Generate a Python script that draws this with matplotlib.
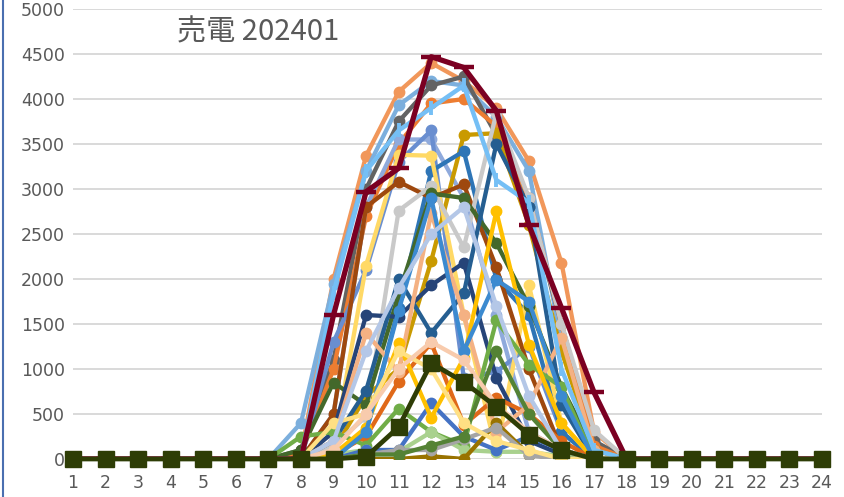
import numpy as np
import matplotlib.pyplot as plt
from matplotlib.lines import Line2D

# =========================
# Data (kWh sold per hour, January 2024, one line per day)
# =========================
hours = list(range(1, 25))
sun_hours = list(range(8, 18))   # hours 8..17, everything else is 0

d01 = [50, 2000, 3370, 4080, 4400, 4200, 3900, 3310, 2180, 300]
d02 = [400, 1950, 3200, 3930, 4200, 4150, 3800, 3200, 1300, 200]
d03 = [100, 1100, 3000, 3750, 4150, 4250, 3600, 2800, 1500, 200]
d04 = [50, 1000, 2700, 3500, 3950, 4000, 3700, 2900, 1500, 150]
d05 = [0, 500, 2800, 3550, 3550, 2900, 1600, 300, 100, 0]
d06 = [0, 1300, 2100, 3300, 3650, 900, 970, 1250, 300, 0]
d07 = [0, 100, 700, 1000, 2200, 3600, 3620, 2600, 1200, 100]
d08 = [0, 50, 300, 1680, 3200, 3420, 2000, 1600, 300, 0]
d09 = [0, 100, 2150, 3380, 3370, 1600, 80, 1930, 400, 0]
d10 = [0, 500, 2800, 3080, 2900, 3050, 2130, 1000, 100, 0]
d11 = [0, 150, 470, 2760, 3030, 2350, 3840, 2900, 1500, 320]
d12 = [100, 850, 600, 1830, 2950, 2900, 2400, 1700, 800, 100]
d13 = [0, 300, 1600, 1580, 1930, 2180, 900, 200, 50, 0]
d14 = [0, 200, 760, 2000, 1400, 1840, 3500, 2800, 600, 0]
d15 = [0, 50, 250, 860, 1290, 380, 680, 500, 200, 0]
d16 = [0, 200, 1400, 970, 2730, 1600, 300, 600, 1350, 100]
d17 = [250, 300, 150, 560, 300, 150, 1540, 1050, 800, 0]
d18 = [0, 50, 100, 80, 300, 100, 80, 80, 30, 0]
d19 = [0, 0, 100, 100, 620, 250, 100, 250, 100, 0]
d20 = [0, 0, 0, 0, 30, 0, 400, 50, 0, 0]
d21 = [0, 0, 50, 100, 100, 220, 350, 40, 0, 0]
d22 = [0, 50, 350, 1290, 460, 1120, 2750, 1270, 400, 0]
d23 = [0, 0, 50, 50, 150, 250, 1200, 500, 100, 0]
d24 = [0, 0, 300, 1650, 2900, 1200, 1990, 1750, 700, 0]
d25 = [0, 400, 500, 1200, 1000, 400, 200, 100, 0, 0]
d26 = [0, 200, 1200, 1900, 2500, 2800, 1700, 700, 100, 0]
d27 = [0, 100, 500, 1000, 1300, 1100, 600, 300, 100, 0]
d28 = [0, 1850, 3200, 3650, 3900, 4150, 3100, 2850, 1000, 100]
d29 = [0, 1600, 2970, 3230, 4470, 4350, 3870, 2600, 1680, 740]
d30 = [0, 0, 25, 355, 1065, 855, 580, 270, 100, 0]

days = [d01, d02, d03, d04, d05, d06, d07, d08, d09, d10,
        d11, d12, d13, d14, d15, d16, d17, d18, d19, d20,
        d21, d22, d23, d24, d25, d26, d27, d28, d29, d30]

colors = ["#F1975A", "#7CAFDD", "#636363", "#ED7D31", "#8FAADC", "#698ED0",
          "#C99A00", "#2E75B6", "#FFD966", "#9E480E", "#C9C9C9", "#43682B",
          "#264478", "#255E91", "#E06919", "#F4B183", "#70AD47", "#A9D18E",
          "#4472C4", "#997300", "#A5A5A5", "#FFC000", "#548235", "#3C8AD0",
          "#FFE083", "#B4C7E7", "#F8CBAD", "#75BFF5", "#7B0022", "#2E3D06"]


def full_day(vals):
    out = dict.fromkeys(hours, 0)
    out.update(zip(sun_hours, vals))
    return [out[h] for h in hours]


# =========================
# Plot
# =========================
fig = plt.figure(figsize=(8.44, 4.97), dpi=100)
ax = fig.add_axes([73 / 844, 38 / 497, 749 / 844, 450 / 497])

for i, (vals, c) in enumerate(zip(days, colors)):
    y = full_day(vals)
    if i == 28:
        ax.plot(hours, y, color=c, lw=3.8, marker="_", ms=15, mew=3.2, zorder=5)
    elif i == 29:
        ax.plot(hours, y, color=c, lw=3.4, marker="s", ms=12, zorder=6,
                clip_on=False)
    elif i == 27:
        ax.plot(hours, y, color=c, lw=3.2, marker="|", ms=10, mew=2.8, zorder=3)
    else:
        ax.plot(hours, y, color=c, lw=3.1, marker="o", ms=7.5, zorder=3)

ax.set_xlim(1, 24)
ax.set_ylim(0, 5000)
ax.set_xticks(hours)
ax.set_yticks(np.arange(0, 5001, 500))
ax.grid(axis="y", color="#D9D9D9", lw=1.4)
ax.set_axisbelow(True)
for s in ax.spines.values():
    s.set_visible(False)
ax.tick_params(axis="x", length=0, pad=11, labelsize=12.5, labelcolor="#595959")
ax.tick_params(axis="y", length=0, pad=6, labelsize=12.5, labelcolor="#595959")

fig.text(258 / 844, 1 - 32 / 497, "売電 202401", ha="center", va="center",
         fontsize=21, color="#595959", family=["Noto Sans CJK JP", "DejaVu Sans"])

# window border on the left
fig.add_artist(Line2D([3 / 844, 3 / 844], [0, 1], color="#4A6FB0", lw=1.5))

fig.savefig("out.png", dpi=100)
